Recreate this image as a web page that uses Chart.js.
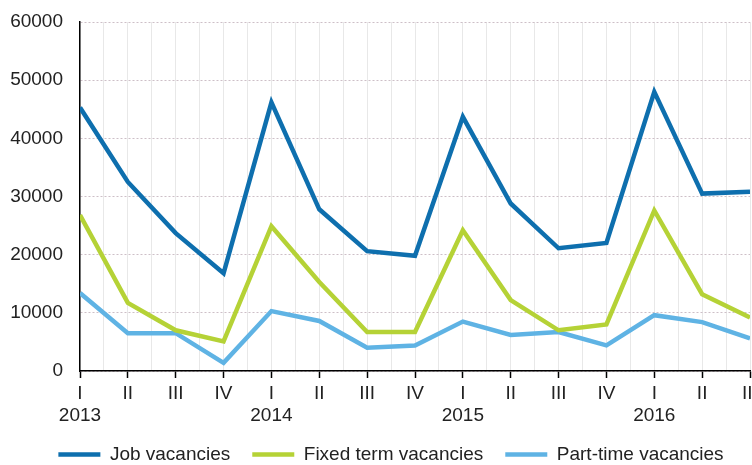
<!DOCTYPE html>
<html>
<head>
<meta charset="utf-8">
<script src="https://cdn.jsdelivr.net/npm/chart.js@4"></script>
<style>
html,body{margin:0;padding:0;background:#fff;}
#wrap{width:752px;height:465px;position:relative;}
</style>
</head>
<body>
<div id="wrap"><canvas id="c" width="752" height="465"></canvas></div>
<script>
const quarters = ['I','II','III','IV','I','II','III','IV','I','II','III','IV','I','II','III'];
const years = ['2013','','','','2014','','','','2015','','','','2016','',''];
const jobVacancies   = [45300, 32500, 23700, 16800, 46200, 27800, 20600, 19800, 43700, 28800, 21100, 22000, 48000, 30500, 30800];
const fixedTerm      = [26800, 11700, 7000, 5100, 24900, 15300, 6700, 6700, 24200, 12200, 7000, 8000, 27600, 13200, 9200];
const partTime       = [13400, 6500, 6500, 1400, 10300, 8600, 4000, 4400, 8500, 6200, 6700, 4400, 9600, 8400, 5600];
const yTicks = [0, 10000, 20000, 30000, 40000, 50000, 60000];

const toPts = arr => arr.map((v, i) => ({x: i, y: v}));
const font = {family: '"Liberation Sans", Arial, sans-serif', size: 19};
const txt = '#222';

const shiftLegend = {
  id: 'shiftLegend',
  afterLayout(chart) { if (chart.legend) chart.legend.left += 32; }
};

new Chart(document.getElementById('c'), {
  type: 'line',
  data: {
    datasets: [
      {label: 'Job vacancies', data: toPts(jobVacancies), borderColor: '#0e6fae', backgroundColor: '#0e6fae'},
      {label: 'Fixed term vacancies', data: toPts(fixedTerm), borderColor: '#b5d236', backgroundColor: '#b5d236'},
      {label: 'Part-time vacancies', data: toPts(partTime), borderColor: '#5fb3e4', backgroundColor: '#5fb3e4'}
    ].map(d => Object.assign(d, {borderWidth: 4.5, pointRadius: 0, tension: 0, fill: false}))
  },
  plugins: [shiftLegend],
  options: {
    responsive: false,
    animation: false,
    layout: {padding: {top: 22, right: 2, left: 0, bottom: -9}},
    plugins: {
      tooltip: {enabled: false},
      legend: {
        position: 'bottom',
        labels: {
          usePointStyle: true,
          pointStyle: 'line',
          pointStyleWidth: 42,
          padding: 22,
          color: txt,
          font: font
        }
      }
    },
    scales: {
      x: {
        type: 'linear',
        min: 0,
        max: quarters.length - 1,
        afterFit: s => { s.paddingLeft = 0; s.paddingRight = 0; s.height = 52; },
        afterBuildTicks: s => {
          const t = [];
          for (let i = 0; i <= (quarters.length - 1) * 2; i++) t.push({value: i / 2});
          s.ticks = t;
        },
        ticks: {
          autoSkip: false,
          maxRotation: 0,
          minRotation: 0,
          padding: 4,
          color: txt,
          font: Object.assign({lineHeight: 1.2}, font),
          callback: v => {
            if (!Number.isInteger(v)) return '';
            return years[v] ? [quarters[v], years[v]] : quarters[v];
          }
        },
        grid: {
          color: '#e8e8e8',
          lineWidth: 1,
          tickLength: 7,
          tickWidth: 1.5,
          tickColor: c => (c.tick && Number.isInteger(c.tick.value)) ? '#000' : 'rgba(0,0,0,0)'
        },
        border: {display: true, color: '#000', width: 1.5}
      },
      y: {
        min: 0,
        max: 60000,
        afterFit: s => { s.width = 80; s.paddingTop = 0; s.paddingBottom = 0; },
        afterBuildTicks: s => { s.ticks = yTicks.map(v => ({value: v})); },
        ticks: {
          padding: 17,
          color: txt,
          font: font,
          callback: v => String(v)
        },
        grid: {color: '#cdbfc7', lineWidth: 1, drawTicks: false},
        border: {display: true, color: '#000', width: 1.5, dash: [2, 2]}
      }
    }
  }
});
</script>
</body>
</html>
